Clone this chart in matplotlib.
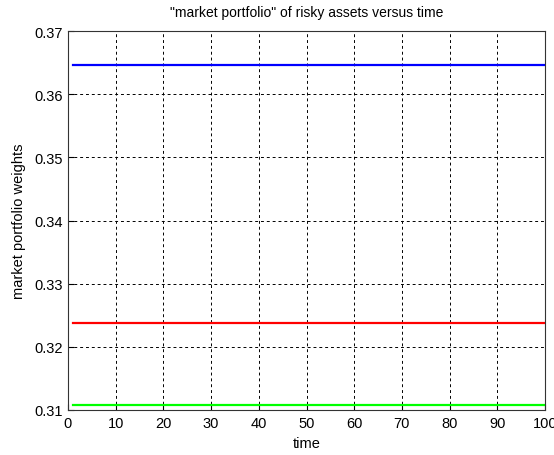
import numpy as np
import matplotlib
matplotlib.use("Agg")
import matplotlib.pyplot as plt

time = np.arange(1, 101)
weights_blue = 0.3646
weights_red = 0.3238
weights_green = 0.3108
series = [(weights_blue, "#0000ff"), (weights_red, "#ff0000"), (weights_green, "#00ff00")]

xticks = [0, 10, 20, 30, 40, 50, 60, 70, 80, 90, 100]
yticks = [0.31, 0.32, 0.33, 0.34, 0.35, 0.36, 0.37]

plt.rcParams['font.family'] = ['Liberation Sans', 'DejaVu Sans']
fig = plt.figure(figsize=(5.54, 4.56), dpi=100)
ax = fig.add_axes([0.1227, 0.0987, 0.8611, 0.8311])
for val, col in series:
    ax.plot(time, np.full(len(time), val), color=col, linewidth=1.6)

ax.set_xlim(0, 100)
ax.set_ylim(0.31, 0.37)
ax.set_xticks(xticks)
ax.set_yticks(yticks)
ax.set_xticklabels([str(t) for t in xticks])
ax.set_yticklabels([f"{t:.2f}" for t in yticks])
ax.grid(True, color='black', linestyle=(0, (3, 3)), linewidth=0.7)
ax.tick_params(direction='in', length=4, labelsize=10.5, colors='black', pad=4)
for s in ax.spines.values():
    s.set_color('#333333')
    s.set_linewidth(0.8)
ax.set_xlabel("time", fontsize=10.5, labelpad=5)
ax.set_ylabel("market portfolio weights", fontsize=10.5, labelpad=6)
ax.set_title('"market portfolio" of risky assets versus time', fontsize=10, pad=11)
fig.savefig("out.png", dpi=100)
